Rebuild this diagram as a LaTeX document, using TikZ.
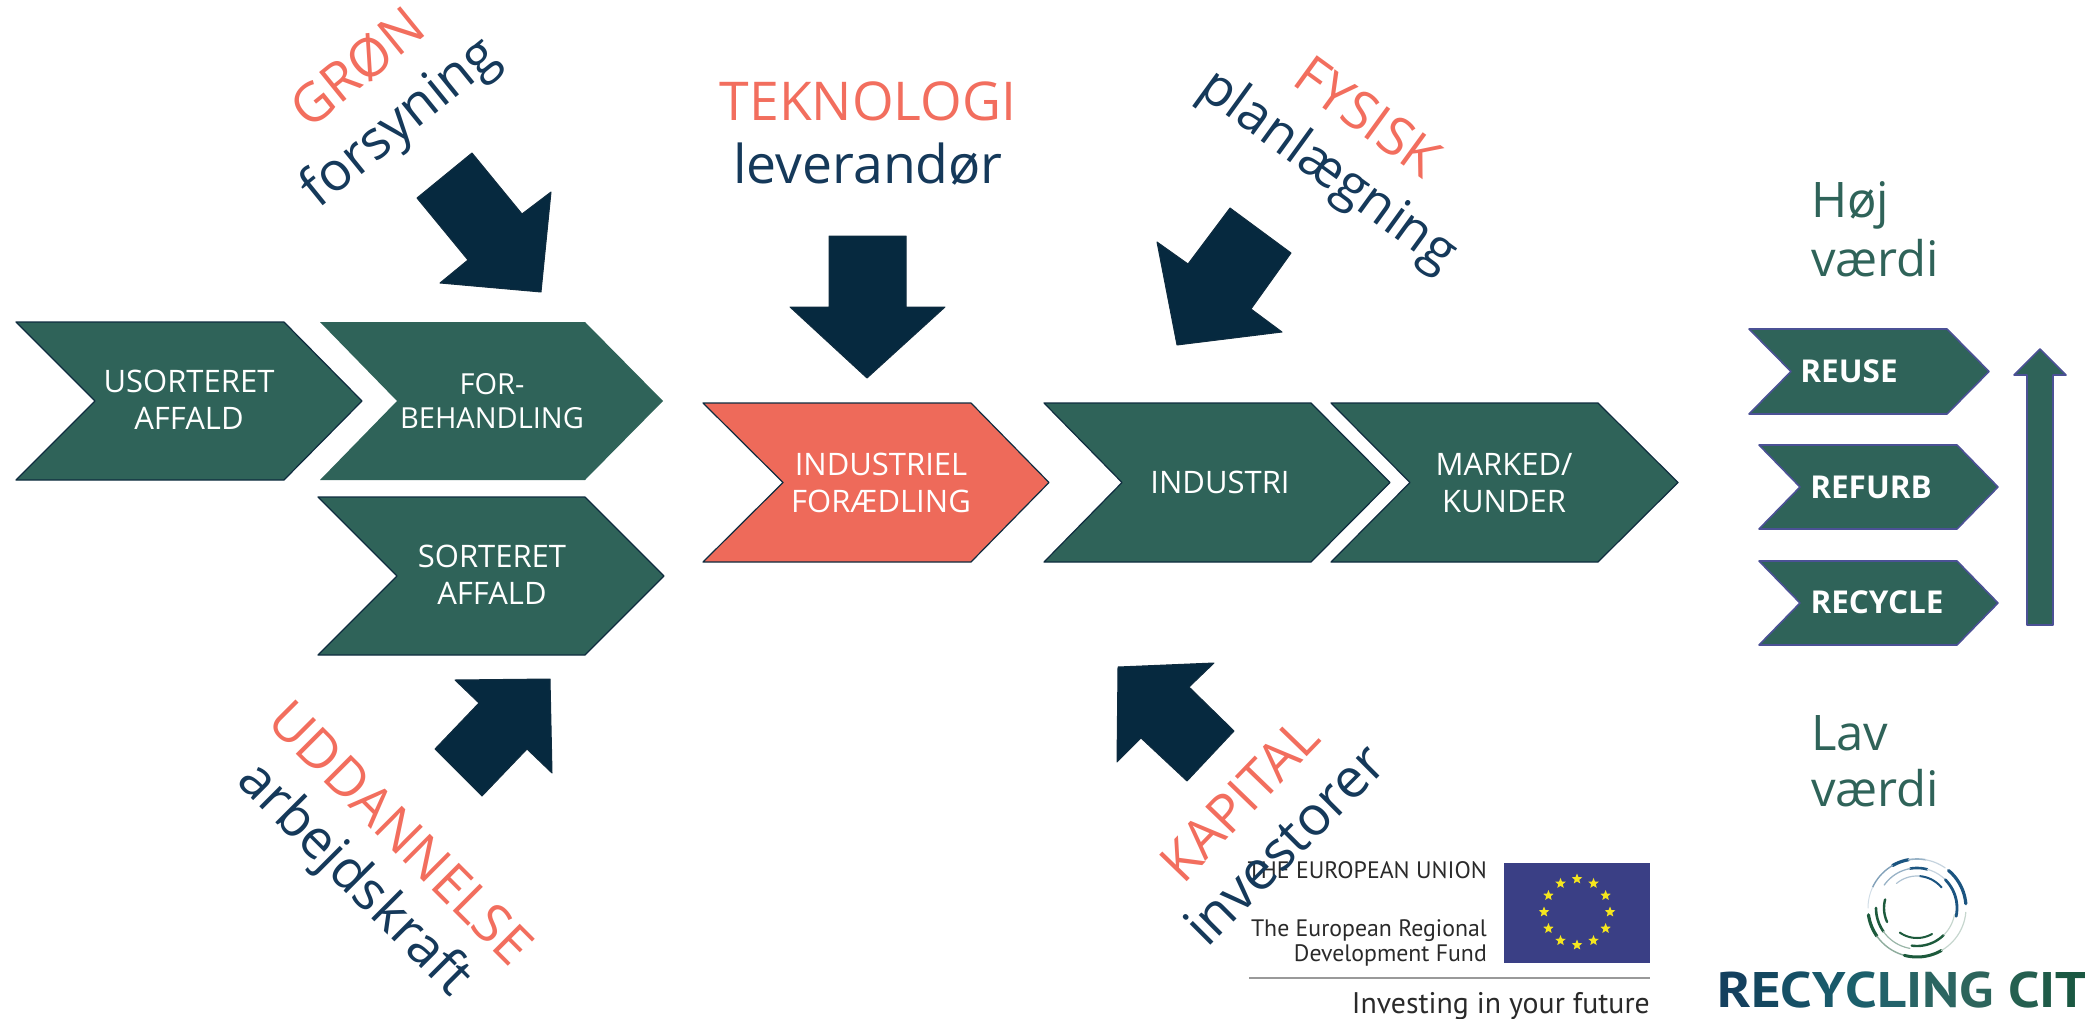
\documentclass[tikz,border=0pt]{standalone}
\usepackage{fontspec}
\usetikzlibrary{shapes.geometric}
\setmainfont{Open Sans}
\newfontfamily\eufont{PT Sans}
\newfontfamily\logofont[FakeStretch=1.13]{PT Sans}
\definecolor{chgreen}{HTML}{2F6359}
\definecolor{chedge}{HTML}{0F2C3F}
\definecolor{coral}{HTML}{EE6A5A}
\definecolor{coraltxt}{HTML}{F26E5E}
\definecolor{navytxt}{HTML}{15395A}
\definecolor{arrowdark}{HTML}{06293F}
\definecolor{purpedge}{HTML}{4B5195}
\definecolor{euflag}{HTML}{3A3F85}
\definecolor{eustar}{HTML}{F5E61E}
\definecolor{eutext}{HTML}{2A2A2A}
\definecolor{ringblue}{HTML}{1B5480}
\definecolor{ringgreen}{HTML}{1D5A3C}
\newcommand{\fs}[1]{\fontsize{#1}{#1}\selectfont}
\newcommand{\chev}[8][chevgreen]{% style, name, left, notch, shoulder, tip, top, bottom
  \draw[#1] (#3,#7) -- (#5,#7) -- (#6,{(#7+#8)/2}) -- (#5,#8) -- (#3,#8) -- (#4,{(#7+#8)/2}) -- cycle;
  \coordinate (#2) at ({(#4+#5)/2},{(#7+#8)/2});
}
\newcommand{\ringarc}[5]{% r, a, b, colour, width
  \draw[line width=#5,draw=#4,line cap=round] plot[domain=#2:#3,samples=14,smooth] ({1917+#1*cos(\x)},{908-#1*sin(\x)});
}
\tikzset{
  chevgreen/.style={fill=chgreen,draw=chedge,line width=1.2pt,line join=round},
  chevplain/.style={fill=chgreen,draw=none},
  chevcoral/.style={fill=coral,draw=chedge,line width=1.2pt,line join=round},
  chevsmall/.style={fill=chgreen,draw=purpedge,line width=1.6pt,line join=round},
  bigarrow/.style={fill=arrowdark,draw=chedge,line width=1pt,line join=round},
  lab/.style={text=white,font=\fs{31},anchor=base,inner sep=0pt},
  labbold/.style={text=white,font=\fs{31.5}\bfseries,anchor=base,inner sep=0pt},
  head/.style={text=coraltxt,font=\fs{53.5},anchor=base,inner sep=0pt},
  sub/.style={text=navytxt,font=\fs{53},anchor=base,inner sep=0pt},
  valuetxt/.style={text=chgreen,font=\fs{49},anchor=base west,inner sep=0pt},
  eu/.style={text=eutext,font=\eufont\fs{23.8},anchor=base east,inner sep=0pt},
  starmark/.style={star,star points=5,star point ratio=2.3,fill=eustar,draw=none,minimum size=11pt,inner sep=0pt},
}
\begin{document}
\begin{tikzpicture}[x=1pt,y=-1pt]
\useasboundingbox (0,0) rectangle (2085,1019);

% EU logo
\fill[euflag] (1504,863) rectangle (1650,963);
\foreach \i in {0,...,11}{
  \node[starmark] (star\i) at ({1577+33*cos(30*\i)},{912+33*sin(30*\i)}) {};
}
\node[eu] (eua) at (1487,878) {THE EUROPEAN UNION};
\node[eu] (eub) at (1487,936) {The European Regional};
\node[eu] (euc) at (1487,961) {Development Fund};
\draw[line width=1.5pt,draw=gray!80] (1249,978) -- (1650,978);
\node[eu,font=\eufont\fs{29.8}] (eud) at (1650,1013) {Investing in your future};

% Recycling City logo rings
\ringarc{49}{100}{120}{ringblue}{3.2}
\ringarc{49}{80}{100}{ringblue!45}{1.6}
\ringarc{49}{55}{80}{ringblue!25}{1.2}
\ringarc{49}{5}{50}{ringblue}{3.2}
\ringarc{49}{120}{155}{ringblue!55}{1.4}
\ringarc{49}{155}{180}{ringblue!20}{1}
\ringarc{40}{75}{100}{ringblue}{2.6}
\ringarc{40}{100}{145}{ringblue!45}{1.3}
\ringarc{40}{45}{75}{ringblue!25}{1.2}
\ringarc{40}{-12}{45}{ringblue}{2.8}
\ringarc{32}{40}{85}{ringblue}{2}
\ringarc{32}{85}{130}{ringblue!35}{1.2}
\ringarc{49}{188}{215}{ringgreen}{3.2}
\ringarc{49}{215}{255}{ringgreen!50}{1.4}
\ringarc{49}{255}{300}{ringgreen}{3}
\ringarc{49}{300}{355}{ringgreen!25}{1.2}
\ringarc{41}{180}{215}{ringgreen}{2.6}
\ringarc{41}{215}{260}{ringgreen!45}{1.2}
\ringarc{38}{262}{315}{ringgreen}{2.4}
\ringarc{38}{315}{350}{ringgreen!25}{1.2}
\ringarc{33}{165}{205}{ringgreen}{2.4}
\ringarc{30}{235}{300}{ringgreen}{2}
\node[inner sep=0pt,anchor=base west,font=\logofont\fs{50}\bfseries] (rc) at (1717,1007) {%
 \textcolor[HTML]{14405E}{R}\textcolor[HTML]{14475F}{E}\textcolor[HTML]{165066}{C}\textcolor[HTML]{19596A}{Y}\textcolor[HTML]{1C5F6B}{C}\textcolor[HTML]{22626A}{L}\textcolor[HTML]{286465}{I}\textcolor[HTML]{2B6561}{N}\textcolor[HTML]{2D655C}{G} \textcolor[HTML]{256050}{C}\textcolor[HTML]{1F5B48}{I}\textcolor[HTML]{1A5842}{T}};

% Big chevrons
\chev{c1}{16}{95}{284}{362}{322}{480}
\chev[chevplain]{c2}{320}{397}{585}{663}{322}{480}
\chev{c3}{318}{397}{585}{664}{497}{655}
\chev[chevcoral]{c4}{703}{783}{971}{1049}{403}{562}
\chev{c5}{1044}{1122}{1311}{1390}{403}{562}
\chev{c6}{1331}{1410}{1598}{1678}{403}{562}
\node[lab] (l1a) at (189,392) {USORTERET};
\node[lab] (l1b) at (189,429) {AFFALD};
\node[lab,font=\fs{29}] (l2a) at (492,394) {FOR-};
\node[lab,font=\fs{29}] (l2b) at (492,428) {BEHANDLING};
\node[lab] (l3a) at (492,567) {SORTERET};
\node[lab] (l3b) at (492,604) {AFFALD};
\node[lab] (l4a) at (881,475) {INDUSTRIEL};
\node[lab] (l4b) at (881,512) {FORÆDLING};
\node[lab] (l5) at (1220,493) {INDUSTRI};
\node[lab] (l6a) at (1504,475) {MARKED/};
\node[lab] (l6b) at (1504,512) {KUNDER};

% Small chevrons
\chev[chevsmall]{s1}{1749}{1791}{1947}{1989}{329}{414}
\chev[chevsmall]{s2}{1759}{1800}{1957}{1998}{445}{529}
\chev[chevsmall]{s3}{1759}{1800}{1957}{1998}{561}{645}
\node[labbold] (t1) at (1849,382) {REUSE};
\node[labbold] (t2) at (1871,498) {REFURB};
\node[labbold] (t3) at (1877,613) {RECYCLE};
\draw[chevsmall] (2040,349) -- (2066,375) -- (2053,375) -- (2053,625) -- (2027,625) -- (2027,375) -- (2014,375) -- cycle;

\node[valuetxt] (v1) at (1811,218) {Høj};
\node[valuetxt] (v2) at (1811,276) {værdi};
\node[valuetxt] (v3) at (1811,750) {Lav};
\node[valuetxt] (v4) at (1811,806) {værdi};

% Dark arrows
\draw[bigarrow] (472,153) -- (417,198) -- (468,260) -- (440,283) -- (541,292) -- (551,192) -- (522,214) -- cycle;
\draw[bigarrow] (829,236) -- (906,236) -- (906,307) -- (945,307) -- (867,378) -- (790,307) -- (829,307) -- cycle;
\draw[bigarrow] (1230,208) -- (1291,253) -- (1251,309) -- (1282,332) -- (1177,345) -- (1157,242) -- (1188,264) -- cycle;
\draw[bigarrow] (455,680) -- (550,679) -- (552,773) -- (527,749) -- (482,796) -- (435,749) -- (479,703) -- cycle;
\draw[bigarrow] (1118,667) -- (1214,663) -- (1189,687) -- (1234,731) -- (1187,781) -- (1141,738) -- (1117,762) -- cycle;

% Heading texts
\node[head] (h2) at (868,121) {TEKNOLOGI};
\node[sub,font=\fs{53.5}] (b2) at (868,184) {leverandør};
\node[head,rotate=39] (h1) at (369,82) {GRØN};
\node[sub,rotate=39,font=\fs{54}] (b1) at (410,135) {forsyning};
\node[head,rotate=-36] (h3) at (1357,132) {FYSISK};
\node[sub,rotate=-36] (b3) at (1319,183) {planlægning};
\node[head,rotate=-45] (h4) at (388,846) {UDDANNELSE};
\node[sub,rotate=-45,font=\fs{54}] (b4) at (343,890) {arbejdskraft};
\node[head,rotate=46] (h5) at (1253,813) {KAPITAL};
\node[sub,rotate=45,font=\fs{54.5}] (b5) at (1298,858) {investorer};
\end{tikzpicture}
\end{document}
